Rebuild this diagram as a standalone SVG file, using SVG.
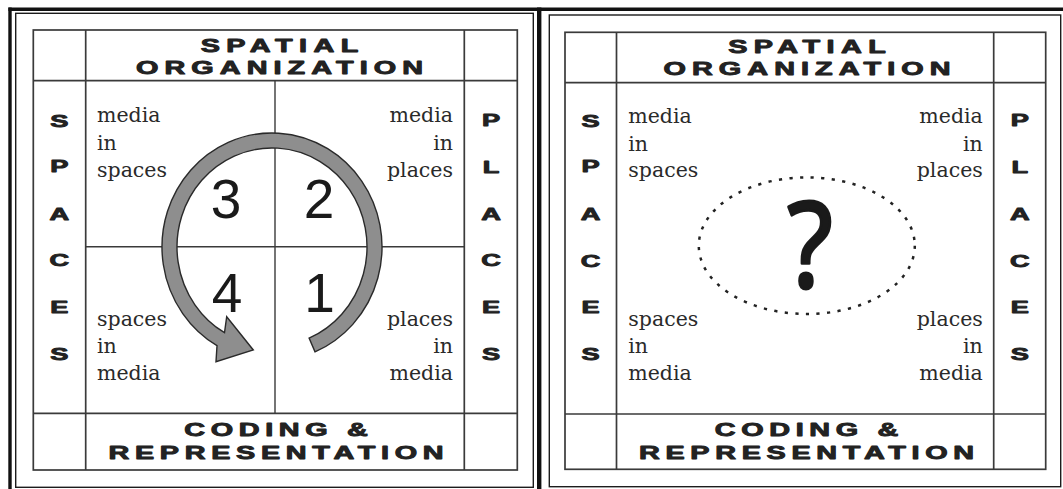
<svg xmlns="http://www.w3.org/2000/svg" width="1063" height="489" viewBox="0 0 1063 489">
<style>
.thick{stroke:#111;stroke-width:3.4;fill:none}
.frame{stroke:#1c1c1c;stroke-width:1.4;fill:none}
.grid{stroke:#3a3a3a;stroke-width:1.7;fill:none}
.hdr{font-family:"Liberation Sans",Arial,sans-serif;font-weight:bold;font-size:18px;fill:#222;stroke:#222;stroke-width:0.9;stroke-linejoin:round;text-anchor:middle}
.vl{font-family:"Liberation Sans",Arial,sans-serif;font-weight:bold;font-size:17px;fill:#222;stroke:#222;stroke-width:0.9;stroke-linejoin:round;text-anchor:middle}
.lab{font-family:"DejaVu Serif","Liberation Serif",serif;font-size:20.5px;fill:#2a2a2a}
.r{text-anchor:end}
.num{font-family:"Liberation Sans",Arial,sans-serif;font-size:55px;fill:#1a1a1a;text-anchor:middle}
</style>
<rect width="1063" height="489" fill="#ffffff"/>
<g id="outer-border">
<line class="thick" x1="8.4" y1="9.3" x2="1063" y2="9.3"/>
<line class="thick" x1="10" y1="7.6" x2="10" y2="489"/>
<line class="thick" x1="539.2" y1="7.6" x2="539.2" y2="489" style="stroke-width:4.4"/>
</g>
<g id="left-panel">
<rect class="frame" x="15.7" y="13.3" width="517.6" height="474"/>
<g id="left-grid">
<rect class="grid" x="33.3" y="30" width="484" height="440"/>
<line class="grid" x1="85.7" y1="30" x2="85.7" y2="470"/>
<line class="grid" x1="464.3" y1="30" x2="464.3" y2="470"/>
<line class="grid" x1="33.3" y1="80.7" x2="517.3" y2="80.7"/>
<line class="grid" x1="33.3" y1="413.3" x2="517.3" y2="413.3"/>
<line class="grid" x1="275" y1="80.7" x2="275" y2="413.3" style="stroke-width:1.4"/>
<line class="grid" x1="85.7" y1="246.7" x2="464.3" y2="246.7" style="stroke-width:1.4"/>
</g>
<g id="left-spatial-organization">
<g transform="translate(279.5,0) scale(1.6,1)"><text class="hdr" x="0" y="52" textLength="98.5" lengthAdjust="spacing">SPATIAL</text>
<text class="hdr" x="0" y="74.5" textLength="179.5" lengthAdjust="spacing">ORGANIZATION</text></g>
</g>
<g id="left-coding-representation">
<g transform="translate(276,0) scale(1.6,1)"><text class="hdr" x="0" y="435.7" textLength="114.8" lengthAdjust="spacing">CODING &amp;</text>
<text class="hdr" x="0" y="459" textLength="209.5" lengthAdjust="spacing">REPRESENTATION</text></g>
</g>
<g id="left-spaces">
<g transform="translate(59.3,0) scale(1.6,1)">
<text class="vl" x="0" y="126.8">S</text><text class="vl" x="0" y="172">P</text><text class="vl" x="0" y="220">A</text><text class="vl" x="0" y="266.3">C</text><text class="vl" x="0" y="312.7">E</text><text class="vl" x="0" y="360">S</text>
</g>
</g>
<g id="left-places">
<g transform="translate(491,0) scale(1.6,1)">
<text class="vl" x="0" y="126.5">P</text><text class="vl" x="0" y="173">L</text><text class="vl" x="0" y="220">A</text><text class="vl" x="0" y="266.5">C</text><text class="vl" x="0" y="312.7">E</text><text class="vl" x="0" y="360">S</text>
</g>
</g>
<g id="left-media-in-spaces"><text class="lab" x="97" y="122">media</text><text class="lab" x="97" y="149.5">in</text><text class="lab" x="97" y="176.5">spaces</text></g>
<g id="left-media-in-places"><text class="lab r" x="453" y="122">media</text><text class="lab r" x="453" y="149.5">in</text><text class="lab r" x="453" y="176.5">places</text></g>
<g id="left-spaces-in-media"><text class="lab" x="97" y="325.5">spaces</text><text class="lab" x="97" y="352.5">in</text><text class="lab" x="97" y="379.5">media</text></g>
<g id="left-places-in-media"><text class="lab r" x="453" y="325.5">places</text><text class="lab r" x="453" y="352.5">in</text><text class="lab r" x="453" y="379.5">media</text></g>
<g id="connectors">
<path d="M315,351.9 A110 114 0 1 0 217,345.7 L216,361.7 L253.3,350 L226.7,316.7 L224.5,332.7 A95 99 0 1 1 309.1,338.1 Z" fill="#8e8e8e" stroke="#2a2a2a" stroke-width="1.4" stroke-linejoin="miter"/>
</g>
<g id="step-3"><text class="num" x="226" y="218">3</text></g>
<g id="step-2"><text class="num" x="319" y="218">2</text></g>
<g id="step-4"><text class="num" x="227" y="311.5">4</text></g>
<g id="step-1"><text class="num" x="319.5" y="311.5">1</text></g>
</g>
<g id="right-panel">
<rect class="frame" x="549.3" y="15" width="511.4" height="471.7"/>
<g id="right-grid">
<rect class="grid" x="565" y="32.3" width="480.7" height="437"/>
<line class="grid" x1="616.5" y1="32.3" x2="616.5" y2="469.3"/>
<line class="grid" x1="993.7" y1="32.3" x2="993.7" y2="469.3"/>
<line class="grid" x1="565" y1="82.7" x2="1045.7" y2="82.7"/>
<line class="grid" x1="565" y1="414" x2="1045.7" y2="414"/>
</g>
<g id="right-spatial-organization">
<g transform="translate(807,0) scale(1.6,1)"><text class="hdr" x="0" y="53.3" textLength="98.5" lengthAdjust="spacing">SPATIAL</text>
<text class="hdr" x="0" y="75.3" textLength="179.5" lengthAdjust="spacing">ORGANIZATION</text></g>
</g>
<g id="right-coding-representation">
<g transform="translate(806.5,0) scale(1.6,1)"><text class="hdr" x="0" y="435.7" textLength="114.8" lengthAdjust="spacing">CODING &amp;</text>
<text class="hdr" x="0" y="458.8" textLength="209.5" lengthAdjust="spacing">REPRESENTATION</text></g>
</g>
<g id="right-spaces">
<g transform="translate(590.6,0) scale(1.6,1)">
<text class="vl" x="0" y="127.3">S</text><text class="vl" x="0" y="172">P</text><text class="vl" x="0" y="220">A</text><text class="vl" x="0" y="266.7">C</text><text class="vl" x="0" y="312.7">E</text><text class="vl" x="0" y="360">S</text>
</g>
</g>
<g id="right-places">
<g transform="translate(1019.7,0) scale(1.6,1)">
<text class="vl" x="0" y="126.5">P</text><text class="vl" x="0" y="173">L</text><text class="vl" x="0" y="220">A</text><text class="vl" x="0" y="266.7">C</text><text class="vl" x="0" y="312.7">E</text><text class="vl" x="0" y="360">S</text>
</g>
</g>
<g id="right-media-in-spaces"><text class="lab" x="628.3" y="123">media</text><text class="lab" x="628.3" y="150.5">in</text><text class="lab" x="628.3" y="177.3">spaces</text></g>
<g id="right-media-in-places"><text class="lab r" x="982.8" y="123">media</text><text class="lab r" x="982.8" y="150.5">in</text><text class="lab r" x="982.8" y="177.3">places</text></g>
<g id="right-spaces-in-media"><text class="lab" x="628.3" y="325.5">spaces</text><text class="lab" x="628.3" y="353">in</text><text class="lab" x="628.3" y="380">media</text></g>
<g id="right-places-in-media"><text class="lab r" x="982.8" y="325.5">places</text><text class="lab r" x="982.8" y="353">in</text><text class="lab r" x="982.8" y="380">media</text></g>
<g id="question">
<ellipse cx="806.8" cy="245.7" rx="108" ry="68.3" fill="none" stroke="#222" stroke-width="2.5" stroke-dasharray="3.2 7.4"/>
<g transform="translate(810,0) scale(0.88,1)"><text x="0" y="286.7" text-anchor="middle" style="font-family:'Noto Sans','DejaVu Sans',sans-serif;font-size:119px;fill:#1a1a1a;stroke:#1a1a1a;stroke-width:3;stroke-linejoin:round">?</text></g>
</g>
</g>
</svg>
